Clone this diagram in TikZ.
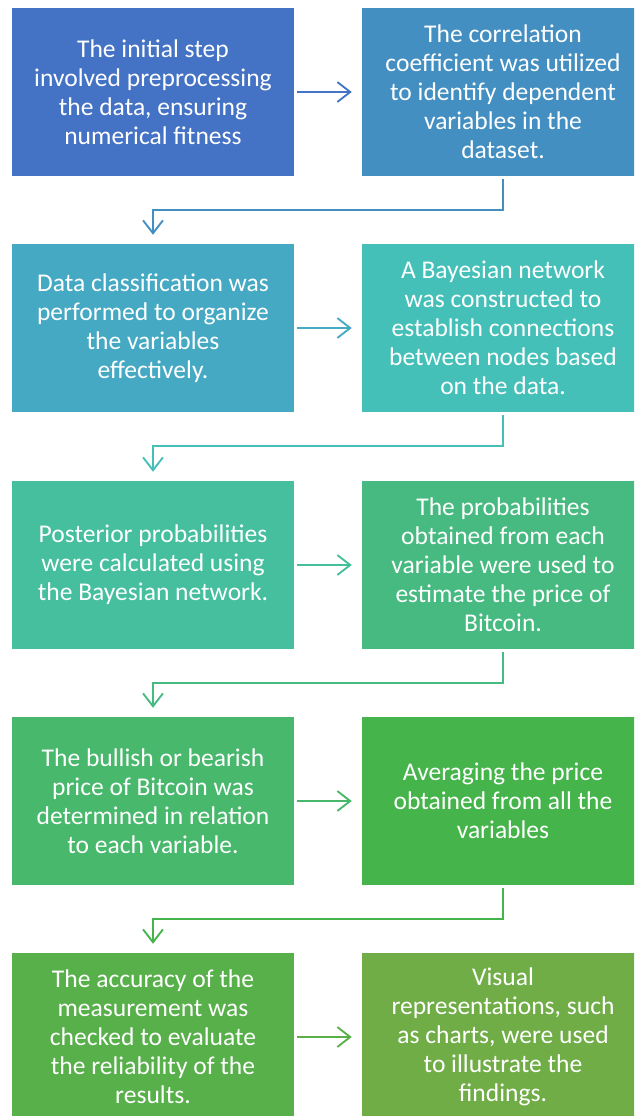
\documentclass[tikz,border=0pt]{standalone}
\usepackage{fontspec}
\setmainfont{Carlito}
\usepackage{tikz}
\usetikzlibrary{arrows.meta, positioning}
\usepackage{xcolor}
\definecolor{flowA}{HTML}{4472C4}
\definecolor{flowB}{HTML}{448FC2}
\definecolor{flowC}{HTML}{45A9C3}
\definecolor{flowD}{HTML}{44C0B8}
\definecolor{flowE}{HTML}{45BF9E}
\definecolor{flowF}{HTML}{46BA80}
\definecolor{flowG}{HTML}{47B86C}
\definecolor{flowH}{HTML}{45B44B}
\definecolor{flowI}{HTML}{58B04A}
\definecolor{flowJ}{HTML}{70AD47}
\tikzset{
  stepbox/.style = {rectangle, minimum width=8.46cm, minimum height=5.04cm,
                    inner sep=0pt, align=center, text=white,
                    font=\fontsize{21.8}{24.8}\selectfont},
  harrow/.style  = {-{Straight Barb[length=11pt,width=17pt]}, line width=1.6pt,
                    shorten <=0.09cm, shorten >=0.3cm},
  varrow/.style  = {-{Straight Barb[length=11pt,width=17pt]}, line width=1.6pt,
                    shorten <=0.09cm, shorten >=0.27cm},
}

\begin{document}
\begin{tikzpicture}[x=0.03cm, y=-0.03cm]
    \useasboundingbox (0,0) rectangle (634,1116);
    \clip (0,0) rectangle (634,1116);

    % row 1
    \node[stepbox, fill=flowA] (l1) at (153,92)
      {The initial step\\involved preprocessing\\the data, ensuring\\numerical fitness};
    \node[stepbox, fill=flowB] (r1) at (503,92)
      {The correlation\\coefficient was utilized\\to identify dependent\\variables in the\\dataset.};
    % row 2
    \node[stepbox, fill=flowC] (l2) at (153,328)
      {Data classification was\\performed to organize\\the variables\\effectively.};
    \node[stepbox, fill=flowD] (r2) at (503,328)
      {A Bayesian network\\was constructed to\\establish connections\\between nodes based\\on the data.};
    % row 3
    \node[stepbox, fill=flowE] (l3) at (153,565)
      {Posterior probabilities\\were calculated using\\the Bayesian network.};
    \node[stepbox, fill=flowF] (r3) at (503,565)
      {The probabilities\\obtained from each\\variable were used to\\estimate the price of\\Bitcoin.};
    % row 4
    \node[stepbox, fill=flowG] (l4) at (153,801)
      {The bullish or bearish\\price of Bitcoin was\\determined in relation\\to each variable.};
    \node[stepbox, fill=flowH] (r4) at (503,801)
      {Averaging the price\\obtained from all the\\variables};
    % row 5
    \node[stepbox, fill=flowI] (l5) at (153,1037)
      {The accuracy of the\\measurement was\\checked to evaluate\\the reliability of the\\results.};
    \node[stepbox, fill=flowJ] (r5) at (503,1037)
      {Visual\\representations, such\\as charts, were used\\to illustrate the\\findings.};

    % arrows
    \draw[harrow, flowA!90!flowB] (l1.east) -- (r1.west);
    \draw[harrow, flowC!90!flowD] (l2.east) -- (r2.west);
    \draw[harrow, flowE!90!flowF] (l3.east) -- (r3.west);
    \draw[harrow, flowG!90!flowH] (l4.east) -- (r4.west);
    \draw[harrow, flowI!90!flowJ] (l5.east) -- (r5.west);

    \draw[varrow, flowB] (r1.south) -- ++(0,34) -| (l2.north);
    \draw[varrow, flowD] (r2.south) -- ++(0,34) -| (l3.north);
    \draw[varrow, flowF] (r3.south) -- ++(0,34) -| (l4.north);
    \draw[varrow, flowH] (r4.south) -- ++(0,34) -| (l5.north);
  \end{tikzpicture}
\end{document}
